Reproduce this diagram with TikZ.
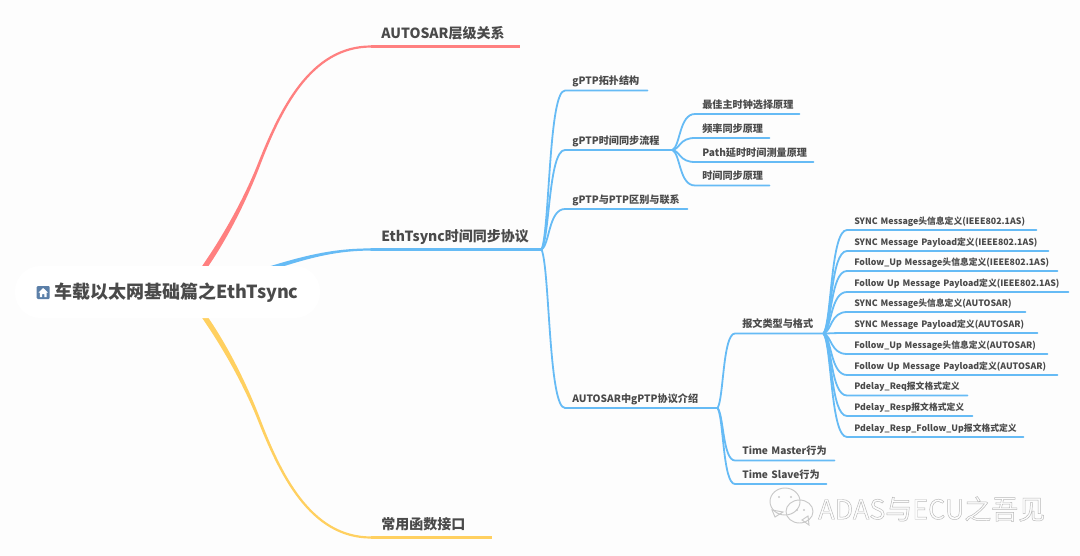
\documentclass[tikz,border=0pt]{standalone}
\usepackage{fontspec}
\setmainfont{Noto Sans CJK SC}
\usetikzlibrary{calc}
\definecolor{bgc}{HTML}{FDFDFD}
\definecolor{inkc}{HTML}{4A4A4A}
\definecolor{bluec}{HTML}{66BBF5}
\definecolor{redc}{HTML}{FF8080}
\definecolor{yelc}{HTML}{FFD060}
\definecolor{homec}{HTML}{5B7FA8}
\definecolor{wmc}{HTML}{C8C8C8}
\tikzset{
  branch/.style={to path={let \p1=(\tikztostart),\p2=(\tikztotarget) in
    .. controls ({\x1+0.35*(\x2-\x1)},{\y1+0.12*(\y2-\y1)}) and ({\x1+0.3*(\x2-\x1)},{\y2}) .. (\tikztotarget)}},
  link/.style={draw=bluec,line width=1.35pt,line cap=round},
  topic/.style={inner sep=0pt,anchor=south west,align=left,font=\bfseries\fontsize{10.5pt}{12pt}\selectfont,text=inkc,inner xsep=7.5pt,inner ysep=3.6pt,text height=9pt,text depth=2.5pt},
  sub/.style={inner sep=0pt,anchor=south west,align=left,font=\bfseries\fontsize{7.6pt}{9pt}\selectfont,text=inkc,inner xsep=5.25pt,inner ysep=2.6pt,text height=6.5pt,text depth=1.5pt},
  leaf/.style={sub,font=\bfseries\fontsize{6.6pt}{9pt}\selectfont},
  wd/.style={text width=#1*0.75pt},
  root/.style={fill=white,rounded corners=19pt,minimum width=228.75pt,minimum height=39pt,inner sep=0pt},
}
\begin{document}
\begin{tikzpicture}[x=0.75pt,y=-0.75pt]
\useasboundingbox (0,0) rectangle (1080,556);
\fill[bgc] (0,0) rectangle (1080,556);

% tapered main branches
\fill[redc] (187,287) .. controls (212,254) and (238,212) .. (256.7,166.5) .. controls (279,109.5) and (309.5,45.4) .. (371,45.4) -- (371,47.6) .. controls (311,47.6) and (281,110.5) .. (259.3,167.5) .. controls (242,212) and (218,256) .. (193,287) -- cycle;
\fill[yelc] (187,297) .. controls (212,330) and (238,372) .. (256.7,417.5) .. controls (279,474.5) and (309.5,538.6) .. (371,538.6) -- (371,536.4) .. controls (311,536.4) and (281,473.5) .. (259.3,416.5) .. controls (242,372) and (218,328) .. (193,297) -- cycle;
\fill[bluec] (250,272.5) .. controls (300,256.5) and (330,248.4) .. (371,248.4) -- (371,250.6) .. controls (332,250.6) and (302,259.5) .. (250,277.5) -- cycle;

\node[root] (rootnode) at (167.5,292) {};
\fill[homec,rounded corners=0.8pt] (36.7,286) rectangle (49.7,299);
\fill[white] (43.2,288) -- (47.9,292.5) -- (46.5,292.5) -- (46.5,297) -- (44.4,297) -- (44.4,294) -- (42,294) -- (42,297) -- (39.9,297) -- (39.9,292.5) -- (38.5,292.5) -- cycle;
\node[anchor=west,inner sep=0pt,font=\bfseries\fontsize{13.5pt}{16pt}\selectfont,text=inkc] (rootlabel) at (54.5,292.5) {车载以太网基础篇之EthTsync};

% first level
\node[topic,wd=128] (a1) at (371,46.5) {\mbox{AUTOSAR层级关系}};
\node[topic,wd=150] (a2) at (371,249.5) {\mbox{EthTsync时间同步协议}};
\node[topic,wd=100] (a3) at (371,537.5) {\mbox{常用函数接口}};
\draw[draw=redc,line width=1.65pt] (a1.south west) -- (a1.south east);
\draw[link,line width=1.65pt] (a2.south west) -- (a2.south east);
\draw[draw=yelc,line width=1.65pt] (a3.south west) -- (a3.south east);

% second level
\node[sub,wd=68] (b1) at (565,90.5) {\mbox{gPTP拓扑结构}};
\node[sub,wd=93] (b2) at (565,150) {\mbox{gPTP时间同步流程}};
\node[sub,wd=108] (b3) at (565,209) {\mbox{gPTP与PTP区别与联系}};
\node[sub,wd=138] (b4) at (565,408) {\mbox{AUTOSAR中gPTP协议介绍}};
\foreach \tgt in {b1,b2,b3,b4}
  \draw[link] (a2.south east) to[branch] (\tgt.south west) -- (\tgt.south east);

% third level under gPTP time sync
\node[sub,wd=90] (c1) at (695,114) {\mbox{最佳主时钟选择原理}};
\node[sub,wd=60] (c2) at (695,138) {\mbox{频率同步原理}};
\node[sub,wd=104] (c3) at (695,162) {\mbox{Path延时时间测量原理}};
\node[sub,wd=60] (c4) at (695,185.5) {\mbox{时间同步原理}};
\foreach \tgt in {c1,c2,c3,c4}
  \draw[link] (b2.south east) to[branch] (\tgt.south west) -- (\tgt.south east);

% third level under AUTOSAR
\node[sub,wd=74] (d1) at (735,333.5) {\mbox{报文类型与格式}};
\node[sub,wd=85] (d2) at (735,460.5) {\mbox{Time Master行为}};
\node[sub,wd=77] (d3) at (735,484) {\mbox{Time Slave行为}};
\foreach \tgt in {d1,d2,d3}
  \draw[link] (b4.south east) to[branch] (\tgt.south west) -- (\tgt.south east);

% leaves
\node[leaf,wd=175] (e1) at (847,230) {\mbox{SYNC Message头信息定义(IEEE802.1AS)}};
\node[leaf,wd=187] (e2) at (847,251) {\mbox{SYNC Message Payload定义(IEEE802.1AS)}};
\node[leaf,wd=196] (e3) at (847,271) {\mbox{Follow\_Up Message头信息定义(IEEE802.1AS)}};
\node[leaf,wd=207] (e4) at (847,292) {\mbox{Follow Up Message Payload定义(IEEE802.1AS)}};
\node[leaf,wd=164] (e5) at (847,312) {\mbox{SYNC Message头信息定义(AUTOSAR)}};
\node[leaf,wd=176] (e6) at (847,333) {\mbox{SYNC Message Payload定义(AUTOSAR)}};
\node[leaf,wd=186] (e7) at (847,354) {\mbox{Follow\_Up Message头信息定义(AUTOSAR)}};
\node[leaf,wd=196] (e8) at (847,375) {\mbox{Follow Up Message Payload定义(AUTOSAR)}};
\node[leaf,wd=106] (e9) at (847,395.5) {\mbox{Pdelay\_Req报文格式定义}};
\node[leaf,wd=111] (e10) at (847,416) {\mbox{Pdelay\_Resp报文格式定义}};
\node[leaf,wd=162] (e11) at (847,437) {\mbox{Pdelay\_Resp\_Follow\_Up报文格式定义}};
\foreach \tgt in {e1,e2,e3,e4,e5,e6,e7,e8,e9,e10,e11}
  \draw[link] (d1.south east) to[branch] (\tgt.south west) -- (\tgt.south east);

% watermark
\begin{scope}[draw=wmc,fill=white,line width=0.7pt]
\draw (772,510) -- (775,517) -- (783,512) -- cycle;
\draw (785,501.5) ellipse (15 and 13.5);
\draw (802,520) -- (809,525) -- (808,516) -- cycle;
\draw (799.5,511.5) ellipse (13.5 and 11.5);
\end{scope}
\fill[wmc] (779,497) circle (1.2) (791,497) circle (1.2) (797,510) circle (1.1) (804,510) circle (1.1);
\node[anchor=west,inner sep=0pt,font=\fontsize{20.2pt}{22pt}\selectfont,text=wmc] (mark) at (818,509) {\special{pdf:code q 1 Tr 0.35 w 0.72 0.72 0.72 RG}ADAS与ECU之吾见\special{pdf:code Q}};
\end{tikzpicture}
\end{document}
